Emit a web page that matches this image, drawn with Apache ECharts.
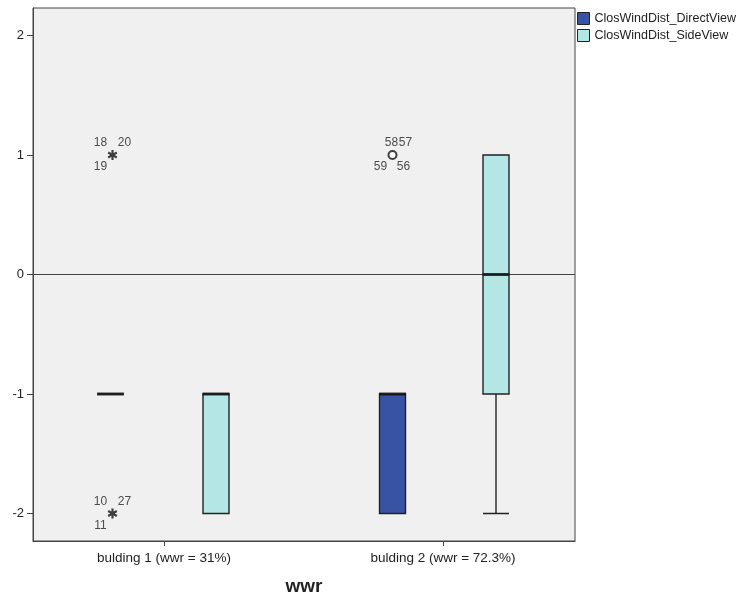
<!DOCTYPE html>
<html>
<head>
<meta charset="utf-8">
<script src="https://cdn.jsdelivr.net/npm/echarts@6/dist/echarts.min.js"></script>
<style>
html,body{margin:0;padding:0;background:#fff;}
#c{width:740px;height:597px;}
</style>
</head>
<body>
<div id="c"></div>
<script>
// ---- data ----
const categories = ['bulding 1 (wwr = 31%)', 'bulding 2 (wwr = 72.3%)'];
const seriesNames = ['ClosWindDist_DirectView', 'ClosWindDist_SideView'];
// [min, Q1, median, Q3, max]
const directBox = [[-1, -1, -1, -1, -1], [-2, -2, -1, -1, -1]];
const sideBox = [[-2, -2, -1, -1, -1], [-2, -1, 0, 1, 1]];
const yTicks = [-2, -1, 0, 1, 2];
// outliers: [categoryIndex, value]
const directExtremes = [[0, 1], [0, -2]];
const directExtremeCases = [['18', '20', '19'], ['10', '27', '11']];
const directOutliers = [[1, 1]];
const directOutlierCases = [['58', '57', '59', '56']];

// ---- styles ----
const FONT = 'Liberation Sans, Arial, sans-serif';
const Y_MIN = -2.23, Y_MAX = 2.23;
const starOffsets = [[-12, -12], [12, -12], [-12, 12]];
const circleOffsets = [[-1, -12], [13, -12], [-12, 12], [11, 12]];
const STAR = 'path://M-1.3,-6L1.3,-6L1.3,6L-1.3,6Z M-5.846,-1.874L-4.546,-4.126L5.846,1.874L4.546,4.126Z M4.546,-4.126L5.846,-1.874L-4.546,4.126L-5.846,1.874Z';
const colors = ['#3953a4', '#b5e6e6'];

const chart = echarts.init(document.getElementById('c'), null, {renderer: 'canvas'});

const gridTop = 8, gridH = 533;
const hiddenY = (gi) => ({gridIndex: gi, type: 'value', min: Y_MIN, max: Y_MAX, show: false, splitLine: {show: false}});
const hiddenX = (gi) => ({gridIndex: gi, type: 'category', data: categories, show: false, axisLine: {onZero: false}});
const G = (extra) => Object.assign({top: gridTop, height: gridH, show: false, outerBoundsMode: 'none', containLabel: false}, extra);

function medianData(box) {
  return box.map((b, i) => [i, b[2]]);
}
function labelData(points, cases, offsets) {
  const out = [];
  points.forEach((p, gi) => {
    cases[gi].forEach((c, i) => {
      out.push({value: p, name: c, label: {offset: offsets[i]}});
    });
  });
  return out;
}

const option = {
  animation: false,
  backgroundColor: '#ffffff',
  textStyle: {fontFamily: FONT},
  legend: {
    orient: 'vertical',
    left: 577, top: 12, padding: 0,
    itemWidth: 12, itemHeight: 12, itemGap: 4,
    icon: 'rect',
    textStyle: {fontSize: 12.5, color: '#222', fontFamily: FONT},
    data: seriesNames.map((n, i) => ({name: n, itemStyle: {color: colors[i], borderColor: '#222', borderWidth: 1}}))
  },
  grid: [
    G({left: 33, width: 542, show: true, backgroundColor: '#f0f0f0', borderColor: '#444', borderWidth: 1}),
    G({left: -30.5, width: 564}),
    G({left: 76, width: 560}),
    G({left: 24.5, width: 558})
  ],
  xAxis: [
    {
      gridIndex: 0, type: 'category', data: categories,
      axisLine: {show: true, onZero: false, lineStyle: {color: '#444', width: 1}},
      axisTick: {show: false}, axisLabel: {show: false},
      name: 'wwr', nameLocation: 'middle', nameGap: 36,
      nameTextStyle: {fontSize: 19, fontWeight: 'bold', color: '#222', fontFamily: FONT}
    },
    hiddenX(1), hiddenX(2),
    {
      gridIndex: 3, type: 'category', data: categories,
      axisLine: {show: false, onZero: false},
      axisTick: {show: true, alignWithLabel: true, length: 5, lineStyle: {color: '#444'}},
      axisLabel: {fontSize: 13.5, color: '#222', margin: 10, fontFamily: FONT}
    }
  ],
  yAxis: [
    {
      gridIndex: 0, type: 'value', min: Y_MIN, max: Y_MAX,
      axisLine: {show: true, onZero: false, lineStyle: {color: '#444', width: 1}},
      axisTick: {show: true, length: 6, customValues: yTicks, lineStyle: {color: '#444'}},
      axisLabel: {fontSize: 13, color: '#222', margin: 9, customValues: yTicks, fontFamily: FONT},
      splitLine: {show: false}
    },
    hiddenY(1), hiddenY(2), hiddenY(3)
  ],
  series: [
    {
      type: 'line', xAxisIndex: 0, yAxisIndex: 0, data: [], silent: true,
      markLine: {
        silent: true, symbol: 'none', animation: false,
        label: {show: false},
        lineStyle: {color: '#444', width: 1, type: 'solid'},
        data: [{yAxis: 0}]
      }
    },
    {
      name: seriesNames[0], type: 'boxplot', xAxisIndex: 1, yAxisIndex: 1,
      boxWidth: [26, 26], data: directBox,
      itemStyle: {color: colors[0], borderColor: '#222', borderWidth: 1.4}
    },
    {
      name: seriesNames[1], type: 'boxplot', xAxisIndex: 2, yAxisIndex: 2,
      boxWidth: [26, 26], data: sideBox,
      itemStyle: {color: colors[1], borderColor: '#222', borderWidth: 1.4}
    },
    {
      type: 'scatter', xAxisIndex: 1, yAxisIndex: 1, data: medianData(directBox),
      symbol: 'rect', symbolSize: [27, 3], itemStyle: {color: '#111'}, z: 5, silent: true
    },
    {
      type: 'scatter', xAxisIndex: 2, yAxisIndex: 2, data: medianData(sideBox),
      symbol: 'rect', symbolSize: [27, 3], itemStyle: {color: '#111'}, z: 5, silent: true
    },
    {
      type: 'scatter', xAxisIndex: 1, yAxisIndex: 1, data: directExtremes,
      symbol: STAR, symbolSize: 10, symbolKeepAspect: true, symbolOffset: [2, 0],
      itemStyle: {color: '#111'}, z: 5, silent: true
    },
    {
      type: 'scatter', xAxisIndex: 1, yAxisIndex: 1, data: directOutliers,
      symbol: 'emptyCircle', symbolSize: 8,
      itemStyle: {color: '#111', borderColor: '#111', borderWidth: 2}, z: 5, silent: true
    },
    {
      type: 'scatter', xAxisIndex: 1, yAxisIndex: 1,
      data: labelData(directExtremes, directExtremeCases, starOffsets.map(o => [o[0] + 2, o[1]]))
        .concat(labelData(directOutliers, directOutlierCases, circleOffsets)),
      symbolSize: 1, itemStyle: {color: 'transparent'}, z: 6, silent: true,
      label: {show: true, position: 'inside', formatter: p => p.name, fontSize: 12, color: '#222', fontFamily: FONT}
    }
  ]
};
chart.setOption(option);
</script>
</body>
</html>
